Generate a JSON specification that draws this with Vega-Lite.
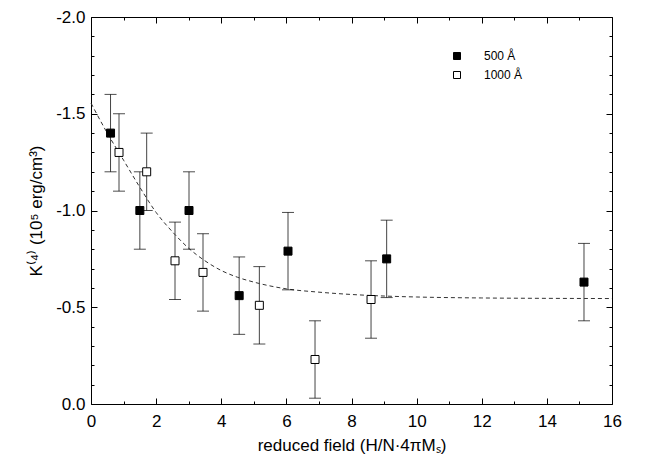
{
  "$schema": "https://vega.github.io/schema/vega-lite/v6.json",
  "width": 521,
  "height": 387,
  "autosize": {"type": "none"},
  "padding": {"left": 91, "top": 17, "right": 41, "bottom": 59},
  "background": "white",
  "config": {
    "view": {"stroke": "black", "strokeWidth": 1},
    "font": "Liberation Sans",
    "axis": {"grid": false, "domain": false, "tickColor": "black", "labelColor": "black", "titleColor": "black", "labelFont": "Liberation Sans", "titleFont": "Liberation Sans", "labelFontSize": 17, "titleFontSize": 17, "titleFontWeight": "normal", "tickWidth": 1}
  },
  "datasets": {
    "pts": [
      {"x": 0.60, "k": -1.40, "lo": -1.60, "hi": -1.20, "series": "500 Å"},
      {"x": 1.50, "k": -1.00, "lo": -1.20, "hi": -0.80, "series": "500 Å"},
      {"x": 3.01, "k": -1.00, "lo": -1.20, "hi": -0.80, "series": "500 Å"},
      {"x": 4.55, "k": -0.56, "lo": -0.76, "hi": -0.36, "series": "500 Å"},
      {"x": 6.05, "k": -0.79, "lo": -0.99, "hi": -0.59, "series": "500 Å"},
      {"x": 9.08, "k": -0.75, "lo": -0.95, "hi": -0.55, "series": "500 Å"},
      {"x": 15.14, "k": -0.63, "lo": -0.83, "hi": -0.43, "series": "500 Å"},
      {"x": 0.86, "k": -1.30, "lo": -1.50, "hi": -1.10, "series": "1000 Å"},
      {"x": 1.71, "k": -1.20, "lo": -1.40, "hi": -1.00, "series": "1000 Å"},
      {"x": 2.58, "k": -0.74, "lo": -0.94, "hi": -0.54, "series": "1000 Å"},
      {"x": 3.44, "k": -0.68, "lo": -0.88, "hi": -0.48, "series": "1000 Å"},
      {"x": 5.17, "k": -0.51, "lo": -0.71, "hi": -0.31, "series": "1000 Å"},
      {"x": 6.88, "k": -0.23, "lo": -0.43, "hi": -0.03, "series": "1000 Å"},
      {"x": 8.60, "k": -0.54, "lo": -0.74, "hi": -0.34, "series": "1000 Å"}
    ],
    "curve": [
      {"x": 0.0, "k": -1.555},
      {"x": 0.5, "k": -1.40},
      {"x": 1.0, "k": -1.26},
      {"x": 1.5, "k": -1.12},
      {"x": 2.0, "k": -0.99},
      {"x": 2.5, "k": -0.89},
      {"x": 3.0, "k": -0.805},
      {"x": 3.5, "k": -0.74},
      {"x": 4.0, "k": -0.69},
      {"x": 4.5, "k": -0.655},
      {"x": 5.0, "k": -0.63},
      {"x": 6.0, "k": -0.595},
      {"x": 7.0, "k": -0.578},
      {"x": 8.0, "k": -0.566},
      {"x": 9.0, "k": -0.558},
      {"x": 10.0, "k": -0.553},
      {"x": 12.0, "k": -0.548},
      {"x": 14.0, "k": -0.546},
      {"x": 16.0, "k": -0.545}
    ]
  },
  "resolve": {"axis": {"x": "independent", "y": "independent"}},
  "layer": [
    {
      "data": {"name": "curve"},
      "mark": {"type": "line", "color": "#333333", "strokeWidth": 1, "strokeDash": [4, 3], "interpolate": "monotone"},
      "encoding": {
        "x": {"field": "x", "type": "quantitative", "scale": {"domain": [0, 16], "nice": false, "zero": false},
          "axis": {"orient": "bottom", "values": [0, 2, 4, 6, 8, 10, 12, 14, 16], "tickSize": -6, "labelPadding": 15, "format": "d", "title": "reduced field (H/N·4πMₛ)", "titlePadding": 8, "labelFlush": false}},
        "y": {"field": "k", "type": "quantitative", "scale": {"domain": [-2, 0], "reverse": true, "nice": false, "zero": false},
          "axis": {"orient": "left", "values": [-2, -1.5, -1, -0.5, 0], "tickSize": -6, "labelPadding": 12, "labelExpr": "(datum.value < 0 ? '-' : '') + format(abs(datum.value), '.1f')", "title": "K⁽⁴⁾ (10⁵ erg/cm³)", "titlePadding": 10, "labelFlush": false}}
      }
    },
    {
      "data": {"name": "pts"},
      "mark": {"type": "rule", "color": "#444444", "strokeWidth": 1},
      "encoding": {
        "x": {"field": "x", "type": "quantitative",
          "axis": {"orient": "top", "values": [0, 2, 4, 6, 8, 10, 12, 14, 16], "tickSize": -6, "labels": false, "title": null}},
        "y": {"field": "lo", "type": "quantitative",
          "axis": {"orient": "right", "values": [-2, -1.5, -1, -0.5, 0], "tickSize": -6, "labels": false, "title": null}},
        "y2": {"field": "hi"}
      }
    },
    {
      "data": {"name": "pts"},
      "mark": {"type": "tick", "orient": "horizontal", "color": "black", "size": 12, "thickness": 1},
      "encoding": {
        "x": {"field": "x", "type": "quantitative",
          "axis": {"orient": "bottom", "values": [1, 3, 5, 7, 9, 11, 13, 15], "tickSize": -3, "labels": false, "title": null}},
        "y": {"field": "lo", "type": "quantitative",
          "axis": {"orient": "left", "values": [-1.9, -1.8, -1.7, -1.6, -1.4, -1.3, -1.2, -1.1, -0.9, -0.8, -0.7, -0.6, -0.4, -0.3, -0.2, -0.1], "tickSize": -3, "labels": false, "title": null}}
      }
    },
    {
      "data": {"name": "pts"},
      "mark": {"type": "tick", "orient": "horizontal", "color": "black", "size": 12, "thickness": 1},
      "encoding": {
        "x": {"field": "x", "type": "quantitative",
          "axis": {"orient": "top", "values": [1, 3, 5, 7, 9, 11, 13, 15], "tickSize": -3, "labels": false, "title": null}},
        "y": {"field": "hi", "type": "quantitative",
          "axis": {"orient": "right", "values": [-1.9, -1.8, -1.7, -1.6, -1.4, -1.3, -1.2, -1.1, -0.9, -0.8, -0.7, -0.6, -0.4, -0.3, -0.2, -0.1], "tickSize": -3, "labels": false, "title": null}}
      }
    },
    {
      "data": {"name": "pts"},
      "mark": {"type": "point", "shape": "square", "filled": false, "stroke": "black", "strokeWidth": 1, "size": 64, "opacity": 1},
      "encoding": {
        "x": {"field": "x", "type": "quantitative", "axis": null},
        "y": {"field": "k", "type": "quantitative", "axis": null},
        "fill": {"field": "series", "type": "nominal",
          "scale": {"domain": ["500 Å", "1000 Å"], "range": ["black", "white"]},
          "legend": {"orient": "none", "legendX": 360, "legendY": 33, "title": null, "symbolType": "square", "symbolSize": 49, "symbolStrokeColor": "black", "symbolStrokeWidth": 1, "labelFontSize": 12, "labelFont": "Liberation Sans", "labelColor": "black", "labelOffset": 21, "rowPadding": 7, "symbolFillColor": "white"}}
      }
    }
  ]
}
